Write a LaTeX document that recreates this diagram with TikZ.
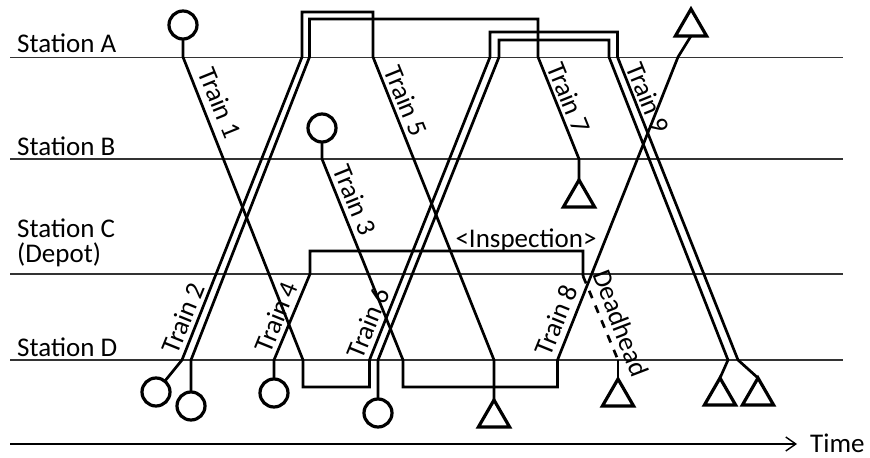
\documentclass[tikz,border=0pt]{standalone}
\usepackage{fontspec}
\setmainfont{Carlito}
\usetikzlibrary{shapes.geometric,arrows.meta}
\begin{document}
\begin{tikzpicture}[x=1bp,y=-1bp,
  stationline/.style={line width=1.4bp, black!80},
  trainline/.style={line width=2.7bp, line join=miter},
  startc/.style={circle, draw, line width=3.2bp, minimum size=28bp, inner sep=0pt, outer sep=0pt},
  endt/.style={regular polygon, regular polygon sides=3, draw, line width=3.2bp, minimum size=36bp, inner sep=0pt, outer sep=0pt},
  lbl/.style={font=\fontsize{27bp}{25bp}\selectfont, inner sep=0pt},
  lbldown/.style={lbl, rotate=-68},
  lblup/.style={lbl, rotate=68}
]
\useasboundingbox (0,0) rectangle (870,458);

% station lines
\coordinate (A0) at (10,57.5);  \coordinate (A1) at (843,57.5);
\coordinate (B0) at (10,159);   \coordinate (B1) at (843,159);
\coordinate (C0) at (10,274);   \coordinate (C1) at (843,274);
\coordinate (D0) at (10,360);   \coordinate (D1) at (843,360);
\draw[stationline] (A0) -- (A1);
\draw[stationline] (B0) -- (B1);
\draw[stationline] (C0) -- (C1);
\draw[stationline] (D0) -- (D1);

\node[lbl, anchor=base west] (stA) at (17,53) {Station A};
\node[lbl, anchor=base west] (stB) at (17,156) {Station B};
\node[lbl, anchor=north west, align=left] (stC) at (17,219) {Station C\\(Depot)};
\node[lbl, anchor=base west] (stD) at (17,357) {Station D};

% time axis
\coordinate (t0) at (10,444);
\coordinate (t1) at (797,444);
\draw[line width=1.4bp, -{Straight Barb[length=10bp,width=14bp,line width=1.4bp]}] (t0) -- (t1);
\node[lbl, anchor=base west] (time) at (810,452) {Time};

% start circles
\node[startc] (c1) at (183,25) {};
\node[startc] (c3) at (322,128) {};
\node[startc] (c2a) at (156,392) {};
\node[startc] (c2b) at (191,406) {};
\node[startc] (c4) at (274,393) {};
\node[startc] (c6) at (378,413) {};

% end triangles
\node[endt, anchor=corner 1] (t5) at (494,400) {};
\node[endt, anchor=corner 1] (t7) at (579,180) {};
\node[endt, anchor=corner 1] (tdh) at (618,379) {};
\node[endt, anchor=corner 1] (t9a) at (720,378) {};
\node[endt, anchor=corner 1] (t9b) at (758,378) {};
\node[endt, anchor=side 2] (t8) at (691,36) {};

% Train 2 outer -> Train 5
\coordinate (a1) at (182,360); \coordinate (a2) at (302,57);
\coordinate (a3) at (302,12);  \coordinate (a4) at (373,12);
\coordinate (a5) at (373,57);  \coordinate (a6) at (494,360);
\draw[trainline] (c2a) -- (a1) -- (a2) -- (a3) -- (a4) -- (a5) -- (a6) -- (t5.corner 1);

% Train 2 inner -> Train 7
\coordinate (b1) at (191,360); \coordinate (b2) at (309.5,57);
\coordinate (b3) at (309.5,19); \coordinate (b4) at (538,19);
\coordinate (b5) at (538,57);  \coordinate (b6) at (579,159);
\draw[trainline] (c2b) -- (b1) -- (b2) -- (b3) -- (b4) -- (b5) -- (b6) -- (t7.corner 1);

% Train 1 -> Train 6 (left) -> Train 9 (right)
\coordinate (d1) at (183,57);  \coordinate (d2) at (303,360);
\coordinate (d3) at (303,387); \coordinate (d4) at (369.5,387);
\coordinate (d5) at (369.5,360); \coordinate (d6) at (490,57);
\coordinate (d7) at (490,32);  \coordinate (d8) at (617.5,32);
\coordinate (d9) at (617.5,57); \coordinate (d10) at (738,360);
\draw[trainline] (c1) -- (d1) -- (d2) -- (d3) -- (d4) -- (d5) -- (d6) -- (d7) -- (d8) -- (d9) -- (d10) -- (t9b.corner 1);

% Train 6 (right) -> Train 9 (left)
\coordinate (e1) at (378,360); \coordinate (e2) at (499,57);
\coordinate (e3) at (499,40);  \coordinate (e4) at (609,40);
\coordinate (e5) at (609,57);  \coordinate (e6) at (728,360);
\draw[trainline] (c6) -- (e1) -- (e2) -- (e3) -- (e4) -- (e5) -- (e6) -- (t9a.corner 1);

% Train 3 -> Train 8
\coordinate (f1) at (322,159); \coordinate (f2) at (403,360);
\coordinate (f3) at (403,387); \coordinate (f4) at (557.5,387);
\coordinate (f5) at (557.5,360); \coordinate (f6) at (678,57);
\draw[trainline] (c3) -- (f1) -- (f2) -- (f3) -- (f4) -- (f5) -- (f6) -- (t8.side 2);

% Train 4 -> inspection -> deadhead
\coordinate (g1) at (274,360); \coordinate (g2) at (310,274);
\coordinate (g3) at (310,251); \coordinate (g4) at (583,251);
\coordinate (g5) at (583,276); \coordinate (g6) at (618,360);
\draw[trainline] (c4) -- (g1) -- (g2) -- (g3) -- (g4) -- (g5);
\draw[trainline, dash pattern=on 8bp off 8bp] (g5) -- (g6);
\draw[trainline] (g6) -- (tdh.corner 1);

% labels
\node[lbldown] (l1) at (220,103) {Train 1};
\node[lbldown] (l5) at (406,101) {Train 5};
\node[lbldown] (l7) at (569,98) {Train 7};
\node[lbldown] (l9) at (648,98) {Train 9};
\node[lbldown] (l3) at (355,200) {Train 3};
\node[lblup] (l2) at (183,318) {Train 2};
\node[lblup] (l4) at (276,317) {Train 4};
\node[lblup] (l6) at (368,323) {Train 6};
\node[lblup] (l8) at (556,320) {Train 8};
\node[lbl, rotate=-69] (ldh) at (621,323) {Deadhead};
\node[lbl, anchor=base] (insp) at (526,248) {<Inspection>};
\end{tikzpicture}
\end{document}
